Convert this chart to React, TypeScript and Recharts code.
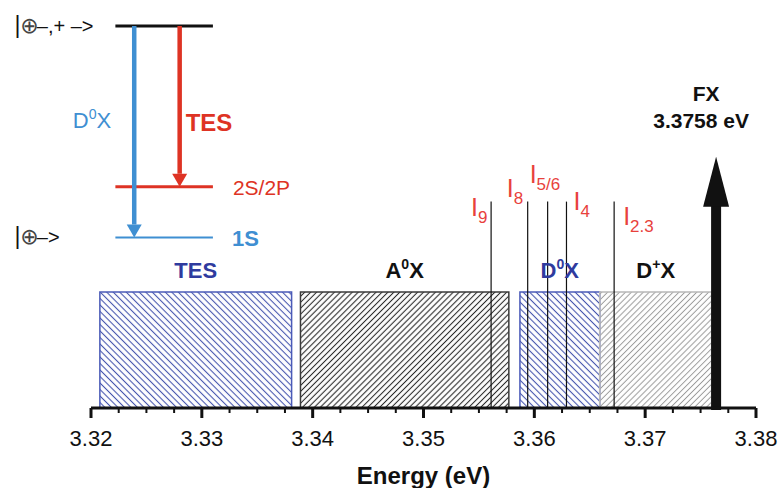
import { ComposedChart, XAxis, YAxis, ReferenceArea, ReferenceLine, ReferenceDot, Scatter } from 'recharts'

const FONT = '"Liberation Sans", Arial, Helvetica, sans-serif'
const INK = '#111111'
const NAVY = '#2f3b9e'
const LINE_RED = '#e8413c'
const SCHEME_RED = '#de3324'
const SCHEME_BLUE = '#3f8fd2'

// energy axis (eV)
const majorTicks = [3.32, 3.33, 3.34, 3.35, 3.36, 3.37, 3.38]
const minorTicks = [
  3.3225, 3.325, 3.3275, 3.3325, 3.335, 3.3375, 3.3425, 3.345, 3.3475, 3.3525, 3.355, 3.3575,
  3.3625, 3.365, 3.3675, 3.3725, 3.375, 3.3775,
]

// emission bands (eV), height in arb. units
const bandNames = ['TES', 'A^0X', 'D^0X', 'D^+X']
const bandFrom = [3.3208, 3.3389, 3.3587, 3.3659]
const bandTo = [3.3381, 3.3577, 3.3659, 3.376]
const bandHeight = [29, 29, 29, 29]

// donor bound exciton lines
const lineNames = ['9', '8', '5/6', '4', '2.3']
const lineEnergy = [3.3561, 3.3594, 3.3612, 3.3629, 3.3672]
const lineHeight = [51.6, 51.6, 51.6, 51.6, 51.6]

// free exciton
const fxName = 'FX'
const fxValue = '3.3758 eV'
const fxEnergy = 3.3764
const fxHeight = 62.8

// level scheme (schematic, drawn in the same axes)
const schemeFrom = 3.3222
const schemeTo = 3.331
const levelHeight = [95.5, 55.3, 42.6]
const transitionX = [3.3239, 3.328]
const transitionFrom = [95.5, 95.5]
const transitionTo = [42.6, 55.3]

// styles
const bandStyle = [
  { fill: 'url(#hatchNavy)', stroke: '#4b5bb8', text: NAVY },
  { fill: 'url(#hatchInk)', stroke: '#3a3a3a', text: INK },
  { fill: 'url(#hatchNavy)', stroke: '#4b5bb8', text: NAVY },
  { fill: 'url(#hatchGray)', stroke: '#b8b8b8', text: INK },
]
const lineLabelOffset = [
  [-20, 14],
  [-21, -5],
  [-18, -19],
  [7, 8],
  [9, 23],
]
const levelStyle = [
  { color: INK, width: 3 },
  { color: SCHEME_RED, width: 3 },
  { color: SCHEME_BLUE, width: 2 },
]
const transitionColor = [SCHEME_BLUE, SCHEME_RED]

function Rich(props: any) {
  const { x, y, text, sup, sub, tail, size, color, bold, anchor = 'start', subScale = 0.72 } = props
  return (
    <text
      x={x}
      y={y}
      fontSize={size}
      fill={color}
      fontWeight={bold ? 'bold' : 'normal'}
      textAnchor={anchor}
      fontFamily={FONT}
    >
      {text}
      {sup && (
        <tspan fontSize={size * 0.64} dy={-size * 0.42}>
          {sup}
        </tspan>
      )}
      {sub && (
        <tspan fontSize={size * subScale} dy={size * 0.28}>
          {sub}
        </tspan>
      )}
      {tail && (
        <tspan fontSize={size} dy={size * 0.42}>
          {tail}
        </tspan>
      )}
    </text>
  )
}

function splitSup(s: string) {
  const m = s.match(/^(.*)\^(.)(.*)$/)
  return m ? { text: m[1], sup: m[2], tail: m[3] } : { text: s }
}

function EnergyTick(props: any) {
  const { x, y, payload } = props
  const major = majorTicks.some((t) => Math.abs(t - payload.value) < 1e-6)
  return (
    <g>
      <line x1={x} x2={x} y1={y} y2={y + (major ? 10 : 5)} stroke={INK} strokeWidth={major ? 3 : 2} />
      {major && (
        <text x={x} y={y + 38} textAnchor="middle" fontSize={22} fontFamily={FONT} fill={INK}>
          {payload.value.toFixed(2)}
        </text>
      )}
    </g>
  )
}

const arrowShape = (color: string, width: number, headW: number, headL: number) => (p: any) => {
  const { x1, y1, x2, y2 } = p
  const dir = Math.sign(y2 - y1)
  const base = y2 - dir * headL
  return (
    <g>
      <line x1={x1} y1={y1} x2={x2} y2={base} stroke={color} strokeWidth={width} />
      <polygon points={`${x2 - headW / 2},${base} ${x2 + headW / 2},${base} ${x2},${y2}`} fill={color} />
    </g>
  )
}

const fxArrow = (p: any) => {
  const { x1, y1, y2 } = p
  const base = y2 + 50
  return (
    <g>
      <rect x={x1 - 5} y={base - 1} width={10} height={y1 - base + 3} fill={INK} />
      <polygon points={`${x1 - 13},${base} ${x1 + 13},${base} ${x1},${y2}`} fill={INK} />
    </g>
  )
}

function Hatch({ id, color, gap, angle, width }: any) {
  return (
    <pattern id={id} width={gap} height={gap} patternUnits="userSpaceOnUse" patternTransform={`rotate(${angle})`}>
      <line x1={gap / 2} y1={0} x2={gap / 2} y2={gap} stroke={color} strokeWidth={width} />
    </pattern>
  )
}

const lineData = lineEnergy.map((x, i) => ({ x, y: lineHeight[i] }))

export default function App() {
  const notes: any[] = []
  bandNames.forEach((n, i) => {
    notes.push({
      x: (bandFrom[i] + bandTo[i]) / 2,
      y: bandHeight[i],
      dy: -14,
      ...splitSup(n),
      size: 22,
      bold: true,
      color: bandStyle[i].text,
      anchor: 'middle',
    })
  })
  lineNames.forEach((n, i) => {
    notes.push({
      x: lineEnergy[i],
      y: lineHeight[i],
      dx: lineLabelOffset[i][0],
      dy: lineLabelOffset[i][1],
      text: 'I',
      sub: n,
      size: 25,
      subScale: 0.68,
      color: LINE_RED,
    })
  })
  notes.push({ x: fxEnergy, y: fxHeight, dx: -10, dy: -56, text: fxName, size: 21, bold: true, color: INK, anchor: 'middle' })
  notes.push({ x: fxEnergy, y: fxHeight, dx: -15, dy: -29, text: fxValue, size: 21, bold: true, color: INK, anchor: 'middle' })
  // level scheme labels
  notes.push({ x: schemeFrom, y: levelHeight[0], dx: -101, dy: 7, text: 'ket0', size: 20, color: INK })
  notes.push({ x: schemeFrom, y: levelHeight[2], dx: -101, dy: 6, text: 'ket1', size: 20, color: INK })
  notes.push({ x: transitionX[0], y: 70, dx: -23, dy: 0, text: 'D', sup: '0', tail: 'X', size: 22, color: SCHEME_BLUE, anchor: 'end' })
  notes.push({ x: transitionX[1], y: 70, dx: 6, dy: 3, text: 'TES', size: 24, bold: true, color: SCHEME_RED })
  notes.push({ x: schemeTo, y: levelHeight[1], dx: 20, dy: 8, text: '2S/2P', size: 21, color: SCHEME_RED })
  notes.push({ x: schemeTo, y: levelHeight[2], dx: 19, dy: 8, text: '1S', size: 22, bold: true, color: SCHEME_BLUE })

  const renderNote = (n: any) => (p: any) => {
    if (n.text === 'ket0' || n.text === 'ket1') {
      const x = p.cx + n.dx
      const y = p.cy + n.dy
      return (
        <text x={x} y={y} fontSize={n.size} fill={INK} fontFamily={FONT}>
          <tspan fontSize={23}>|</tspan>
          <tspan fontFamily='"DejaVu Sans", sans-serif' fontSize={22} fill="#444">⊕</tspan>
          <tspan dx={-2}>{n.text === 'ket0' ? '–,+ –>' : '–>'}</tspan>
        </text>
      )
    }
    return <Rich {...n} x={p.cx + (n.dx || 0)} y={p.cy + (n.dy || 0)} />
  }

  const ticks = [...majorTicks, ...minorTicks].sort((a, b) => a - b)

  return (
    <div style={{ width: 784, height: 488, background: '#fff' }}>
      <style>{'body{margin:0}'}</style>
      <ComposedChart width={784} height={488} margin={{ top: 8, right: 28, bottom: 0, left: 91 }}>
        <defs>
          <Hatch id="hatchNavy" color="#4555ad" gap={4.6} angle={-45} width={1.1} />
          <Hatch id="hatchInk" color="#2a2a2a" gap={4.2} angle={45} width={1.1} />
          <Hatch id="hatchGray" color="#9a9a9a" gap={4.2} angle={45} width={1} />
        </defs>
        <XAxis
          type="number"
          dataKey="x"
          domain={[3.32, 3.38]}
          ticks={ticks}
          interval={0}
          allowDataOverflow
          height={80}
          tickSize={0}
          tickMargin={0}
          tickLine={false}
          tick={EnergyTick}
          axisLine={{ stroke: INK, strokeWidth: 3 }}
          label={{
            value: 'Energy (eV)',
            position: 'insideBottom',
            offset: 4,
            fill: INK,
            fontSize: 24,
            fontWeight: 'bold',
            fontFamily: FONT,
          }}
        />
        <YAxis type="number" dataKey="y" domain={[0, 100]} allowDataOverflow hide width={0} />
        <Scatter data={lineData} dataKey="y" isAnimationActive={false} shape={() => <g />} />
        {bandNames.map((n, i) => (
          <ReferenceArea
            key={n}
            x1={bandFrom[i]}
            x2={bandTo[i]}
            y1={0}
            y2={bandHeight[i]}
            fill={bandStyle[i].fill}
            fillOpacity={1}
            stroke={bandStyle[i].stroke}
            strokeWidth={1.5}
          />
        ))}
        {lineNames.map((n, i) => (
          <ReferenceLine
            key={n}
            segment={[
              { x: lineEnergy[i], y: 0 },
              { x: lineEnergy[i], y: lineHeight[i] },
            ]}
            stroke={INK}
            strokeWidth={1.2}
          />
        ))}
        <ReferenceLine
          segment={[
            { x: fxEnergy, y: 0 },
            { x: fxEnergy, y: fxHeight },
          ]}
          shape={fxArrow}
        />
        {levelHeight.map((h, i) => (
          <ReferenceLine
            key={'lv' + i}
            segment={[
              { x: schemeFrom, y: h },
              { x: schemeTo, y: h },
            ]}
            stroke={levelStyle[i].color}
            strokeWidth={levelStyle[i].width}
          />
        ))}
        {transitionX.map((x, i) => (
          <ReferenceLine
            key={'tr' + i}
            segment={[
              { x, y: transitionFrom[i] },
              { x, y: transitionTo[i] },
            ]}
            shape={arrowShape(transitionColor[i], 4.5, 15, 13)}
          />
        ))}
        {notes.map((n, i) => (
          <ReferenceDot key={'n' + i} x={n.x} y={n.y} r={1} ifOverflow="visible" shape={renderNote(n)} />
        ))}
      </ComposedChart>
    </div>
  )
}
